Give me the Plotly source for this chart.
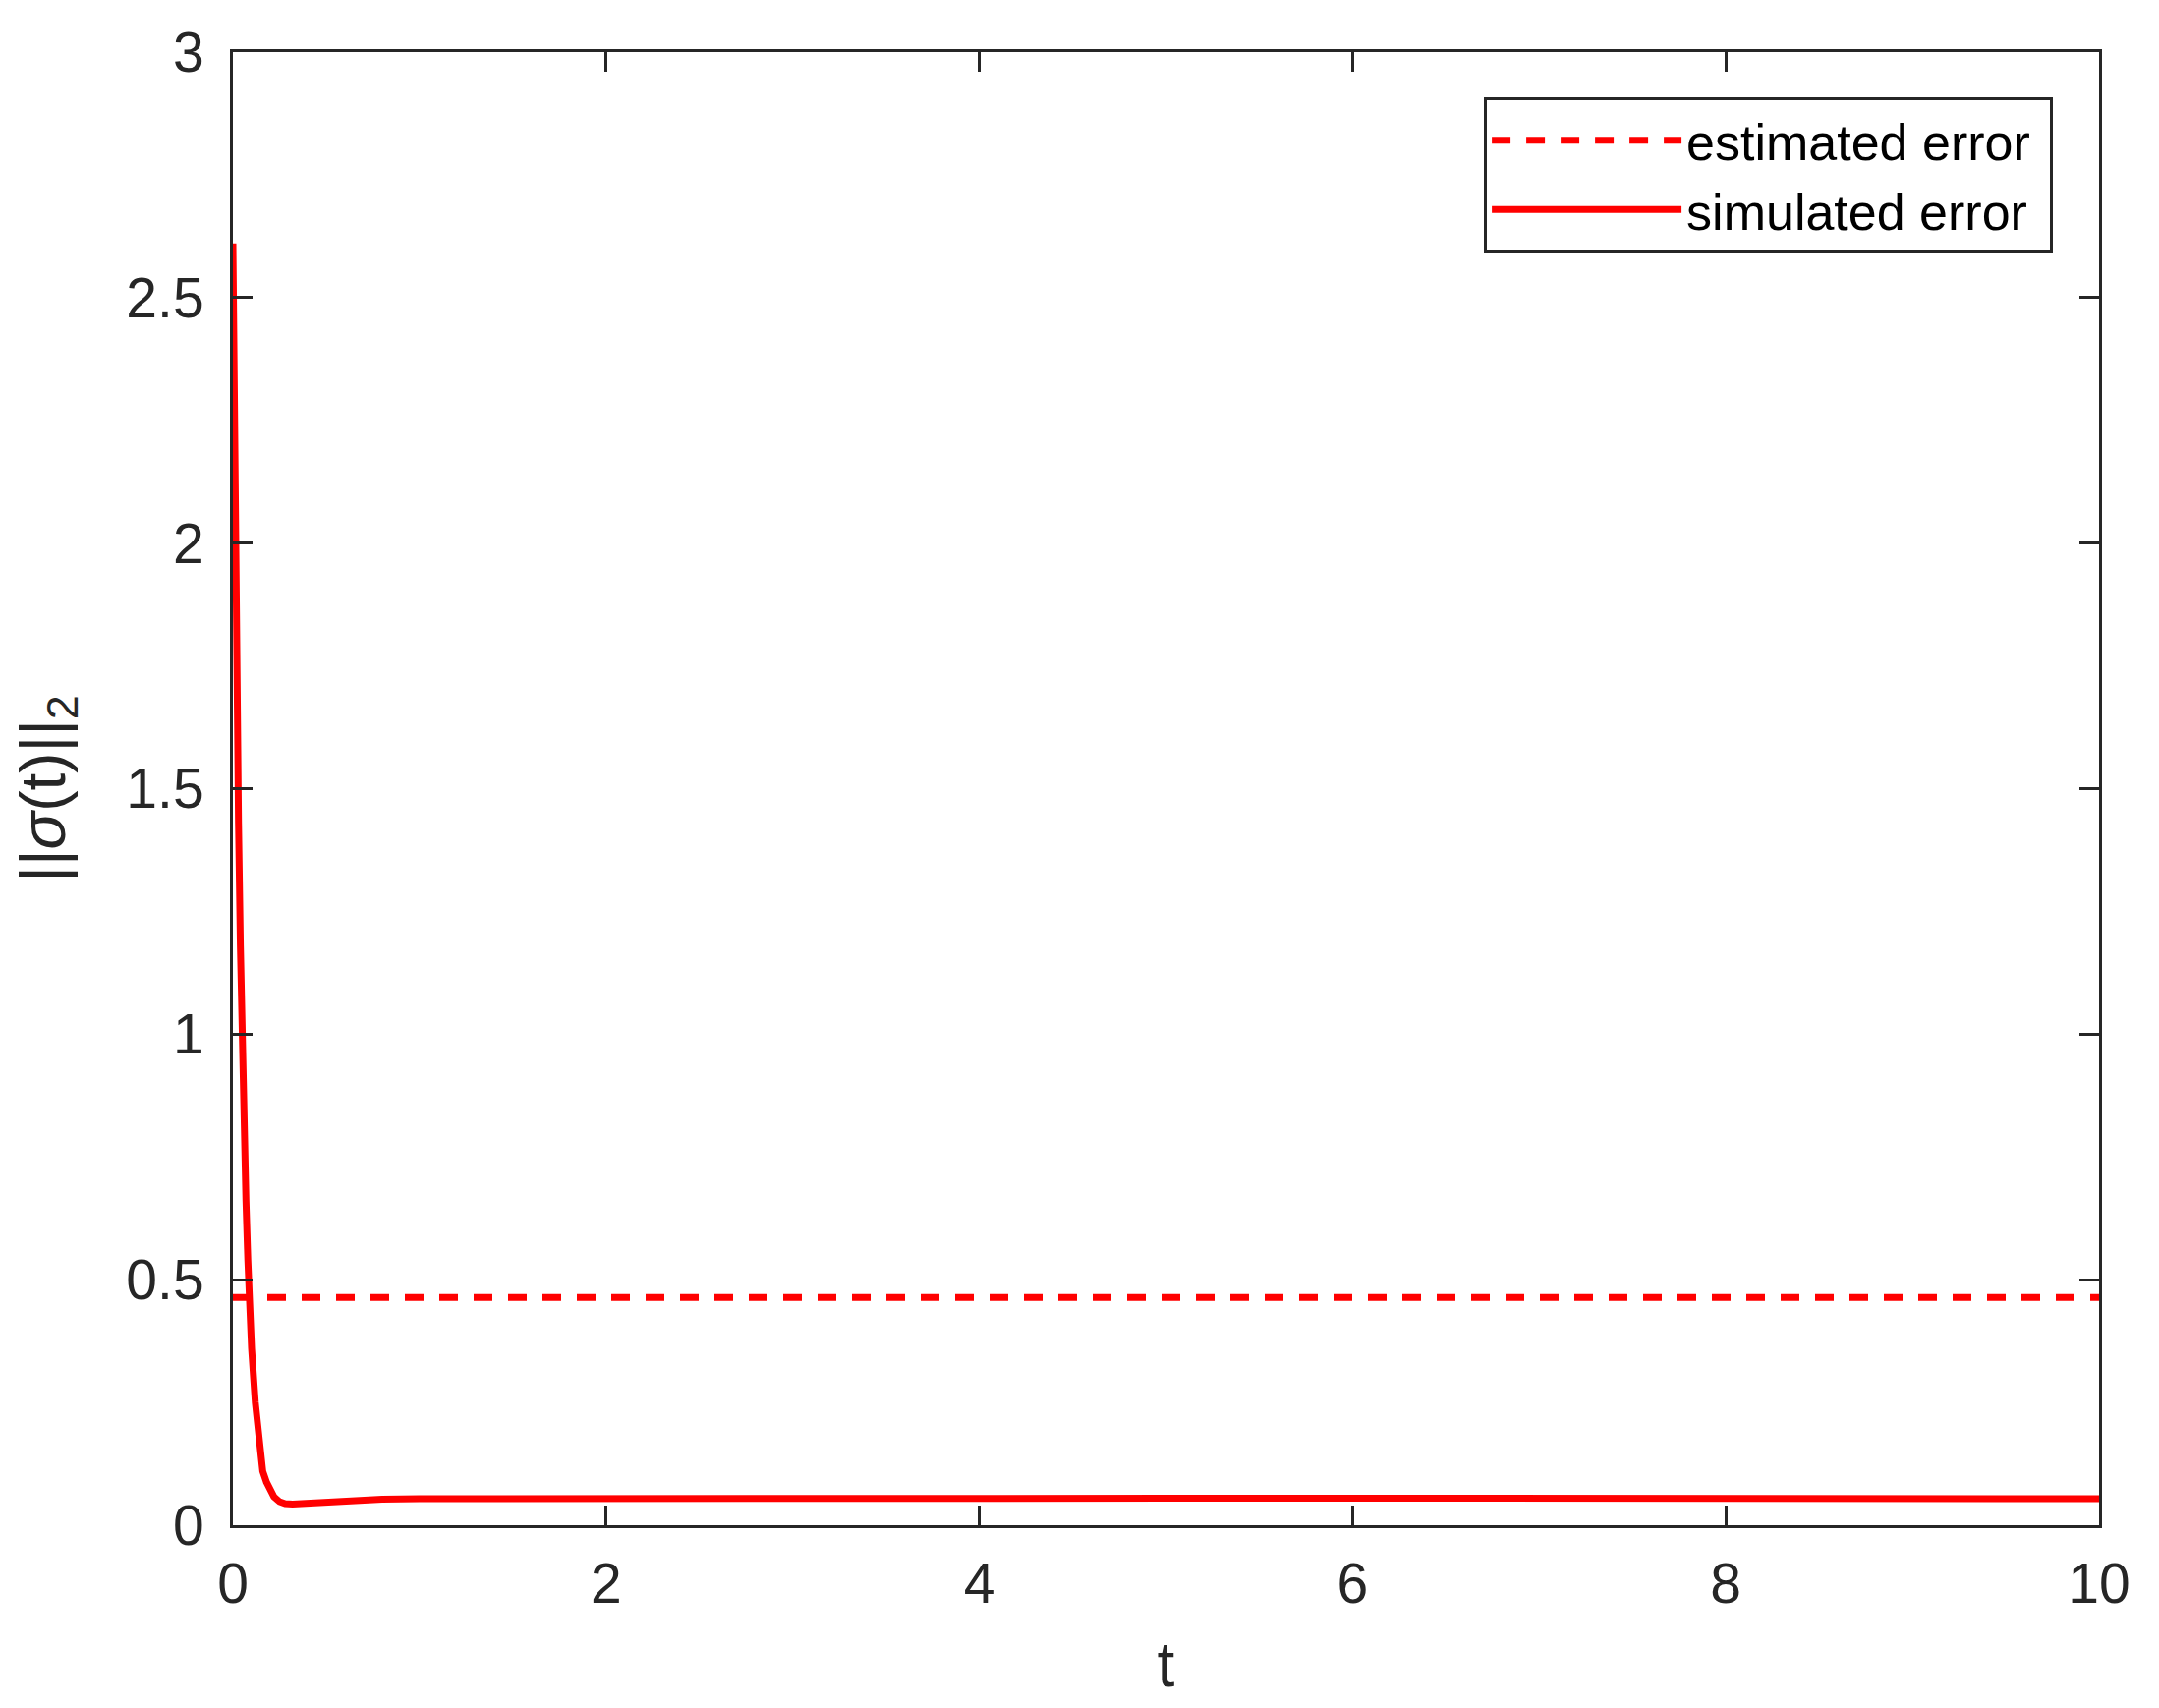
import plotly.graph_objects as go

# Data
t_sim = [0, 0.01, 0.02, 0.03, 0.04, 0.05, 0.06, 0.07, 0.08, 0.09, 0.10, 0.12, 0.14,
         0.16, 0.18, 0.20, 0.22, 0.25, 0.28, 0.32, 0.40, 0.50, 0.60, 0.70, 0.80,
         1.0, 1.5, 2.0, 3.0, 4.0, 5.0, 6.0, 7.0, 8.0, 9.0, 10.0]
err_sim = [2.61, 2.14, 1.75, 1.43, 1.18, 0.97, 0.80, 0.66, 0.54, 0.44, 0.36, 0.25, 0.17,
           0.11, 0.088, 0.072, 0.058, 0.048, 0.044, 0.043, 0.045, 0.048, 0.050, 0.052, 0.053,
           0.054, 0.0545, 0.055, 0.055, 0.055, 0.055, 0.055, 0.055, 0.055, 0.055, 0.054]
t_est = [0, 10]
err_est = [0.464, 0.464]

x_ticks = [0, 2, 4, 6, 8, 10]
y_ticks = [0, 0.5, 1, 1.5, 2, 2.5, 3]
y_ticklabels = ["0", "0.5", "1", "1.5", "2", "2.5", "3"]

series_names = ["estimated error", "simulated error"]

AX = "#262626"
FONT = "Liberation Sans, Arial, Helvetica, sans-serif"

fig = go.Figure()
fig.add_trace(go.Scatter(x=t_est, y=err_est, mode="lines", name=series_names[0] + "&nbsp;",
                         line=dict(color="#FF0000", width=7, dash="19px,16px")))
fig.add_trace(go.Scatter(x=t_sim, y=err_sim, mode="lines", name=series_names[1] + "&nbsp;",
                         line=dict(color="#FF0000", width=7)))

fig.update_layout(
    width=2181, height=1722,
    margin=dict(l=229, r=53, t=45, b=178),
    paper_bgcolor="white", plot_bgcolor="white",
    font=dict(family=FONT, size=57, color=AX),
    showlegend=True,
    legend=dict(
        x=0.9753, y=0.969, xanchor="right", yanchor="top",
        bgcolor="white", bordercolor=AX, borderwidth=3,
        font=dict(family=FONT, size=52, color="black"),
        itemwidth=193,
        tracegroupgap=0,
    ),
)

fig.update_xaxes(
    range=[0, 10], tickvals=x_ticks, ticktext=[str(v) for v in x_ticks],
    showline=True, linecolor=AX, linewidth=3, mirror="allticks",
    ticks="inside", ticklen=20, tickwidth=3, tickcolor=AX,
    showgrid=False, zeroline=False,
    tickfont=dict(size=57, color=AX),
    ticklabelstandoff=8,
    title=dict(text="t", font=dict(size=64, color=AX), standoff=30),
)
fig.update_yaxes(
    range=[0, 3], tickvals=y_ticks, ticktext=y_ticklabels,
    showline=True, linecolor=AX, linewidth=3, mirror="allticks",
    ticks="inside", ticklen=20, tickwidth=3, tickcolor=AX,
    showgrid=False, zeroline=False,
    tickfont=dict(size=57, color=AX),
    ticklabelstandoff=15,
    title=dict(text="||<i>σ</i>(t)||<sub>2</sub>", font=dict(size=64, color=AX), standoff=45),
)

fig.write_html("out.html")
